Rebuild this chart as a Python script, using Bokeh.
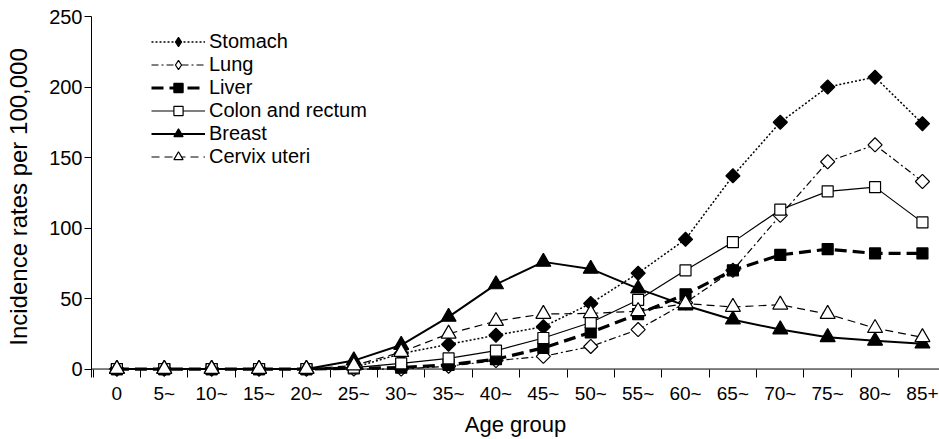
import numpy as np
from bokeh.plotting import figure
from bokeh.models import Range1d, FixedTicker, Legend, LegendItem, Span
from bokeh.embed import file_html
from bokeh.resources import INLINE

age_groups = ["0", "5~", "10~", "15~", "20~", "25~", "30~", "35~", "40~", "45~",
              "50~", "55~", "60~", "65~", "70~", "75~", "80~", "85+"]
stomach = [0, 0, 0, 0, 0, 1, 11, 17.5, 24, 30, 46.5, 68, 92, 137, 175, 200, 207, 174]
lung = [0, 0, 0, 0, 0, 0, 0, 2, 6, 9, 16, 28, 47, 70, 109, 147, 159, 133]
liver = [0, 0, 0, 0, 0, 0.5, 1, 3, 7, 15, 26, 39, 53, 70, 81, 85, 82, 82]
colon = [0, 0, 0, 0, 0, 1, 4, 7.5, 13, 22, 33, 49, 70, 90, 113, 126, 129, 104]
breast = [0, 0, 0, 0, 0, 6, 17, 37, 60, 76, 71, 57, 45, 35, 28, 22.5, 20, 18]
cervix = [0, 0, 0, 0, 0, 2.5, 12, 25, 34, 39, 39.5, 41, 46.5, 44, 45.6, 39, 29, 22.5]
y_ticks = [0, 50, 100, 150, 200, 250]

x = list(range(len(age_groups)))
FONT = "Liberation Sans"

p = figure(width=939, height=439,
           x_range=Range1d(-0.536, 17.36), y_range=Range1d(-6, 250),
           output_backend="svg", toolbar_location=None,
           min_border_left=91, min_border_right=0, min_border_top=16,
           min_border_bottom=62, background_fill_color="white",
           border_fill_color="white")
p.grid.visible = False
p.outline_line_color = None

# x axis line at zero
p.add_layout(Span(location=0, dimension="width", line_color="black",
                  line_width=1, level="underlay"))

series = [
    ("Stomach", stomach, dict(line_dash="2 2", line_width=1.5),
     dict(marker="square", angle=np.pi / 4, size=10, fill_color="black"), "diamond"),
    ("Lung", lung, dict(line_dash="7 3 2 3", line_width=1.2),
     dict(marker="square", angle=np.pi / 4, size=10, fill_color="white"), "diamond"),
    ("Liver", liver, dict(line_dash="12 6", line_width=3.2),
     dict(marker="square", size=11, fill_color="black"), None),
    ("Colon and rectum", colon, dict(line_width=1.2),
     dict(marker="square", size=11, fill_color="white"), None),
    ("Breast", breast, dict(line_width=2),
     dict(marker="triangle", size=15, fill_color="black"), None),
    ("Cervix uteri", cervix, dict(line_dash="8 5", line_width=1.2),
     dict(marker="triangle", size=15, fill_color="white"), None),
]

items = []
for name, vals, lstyle, mstyle, legend_marker in series:
    lr = p.line(x, vals, line_color="black", **lstyle)
    sr = p.scatter(x, vals, line_color="black", line_width=1.2, **mstyle)
    if legend_marker is not None:
        # legend-only marker (legend markers are drawn without rotation)
        hr = p.scatter(x, vals, marker=legend_marker, size=12,
                       fill_color=mstyle["fill_color"], line_color="black",
                       line_width=1.2, visible=False)
        items.append(LegendItem(label=name, renderers=[lr, hr]))
    else:
        items.append(LegendItem(label=name, renderers=[lr, sr]))

legend = Legend(items=items, location=(60, 208.8), padding=0, spacing=0,
                margin=0, glyph_width=54, glyph_height=23, label_height=23,
                label_standoff=4, label_text_font=FONT,
                label_text_font_size="20px", label_text_color="black",
                background_fill_alpha=0, border_line_color=None,
                inactive_fill_alpha=0)
p.add_layout(legend, "center")

xa = p.xaxis[0]
xa.ticker = FixedTicker(ticks=x, minor_ticks=[i - 0.5 for i in range(19)])
xa.major_label_overrides = {i: lab for i, lab in enumerate(age_groups)}
xa.major_tick_line_color = None
xa.major_tick_out = 0
xa.major_tick_in = 0
xa.minor_tick_in = 8
xa.minor_tick_out = 0
xa.minor_tick_line_color = "black"
xa.axis_line_color = None
xa.major_label_text_font = FONT
xa.major_label_text_font_size = "19px"
xa.major_label_text_color = "black"
xa.major_label_standoff = 5
xa.axis_label = "Age group"
xa.axis_label_text_font = FONT
xa.axis_label_text_font_size = "22px"
xa.axis_label_text_font_style = "normal"
xa.axis_label_text_color = "black"
xa.axis_label_standoff = 5

ya = p.yaxis[0]
ya.ticker = FixedTicker(ticks=y_ticks, minor_ticks=[])
ya.major_tick_out = 7
ya.major_tick_in = 0
ya.minor_tick_line_color = None
ya.axis_line_color = "black"
ya.major_tick_line_color = "black"
ya.major_label_text_font = FONT
ya.major_label_text_font_size = "20px"
ya.major_label_text_color = "black"
ya.major_label_standoff = 2
ya.axis_label = "Incidence rates per 100,000"
ya.axis_label_text_font = FONT
ya.axis_label_text_font_size = "24px"
ya.axis_label_text_font_style = "normal"
ya.axis_label_text_color = "black"
ya.axis_label_standoff = 14

open("out.html", "w").write(file_html(p, INLINE))
